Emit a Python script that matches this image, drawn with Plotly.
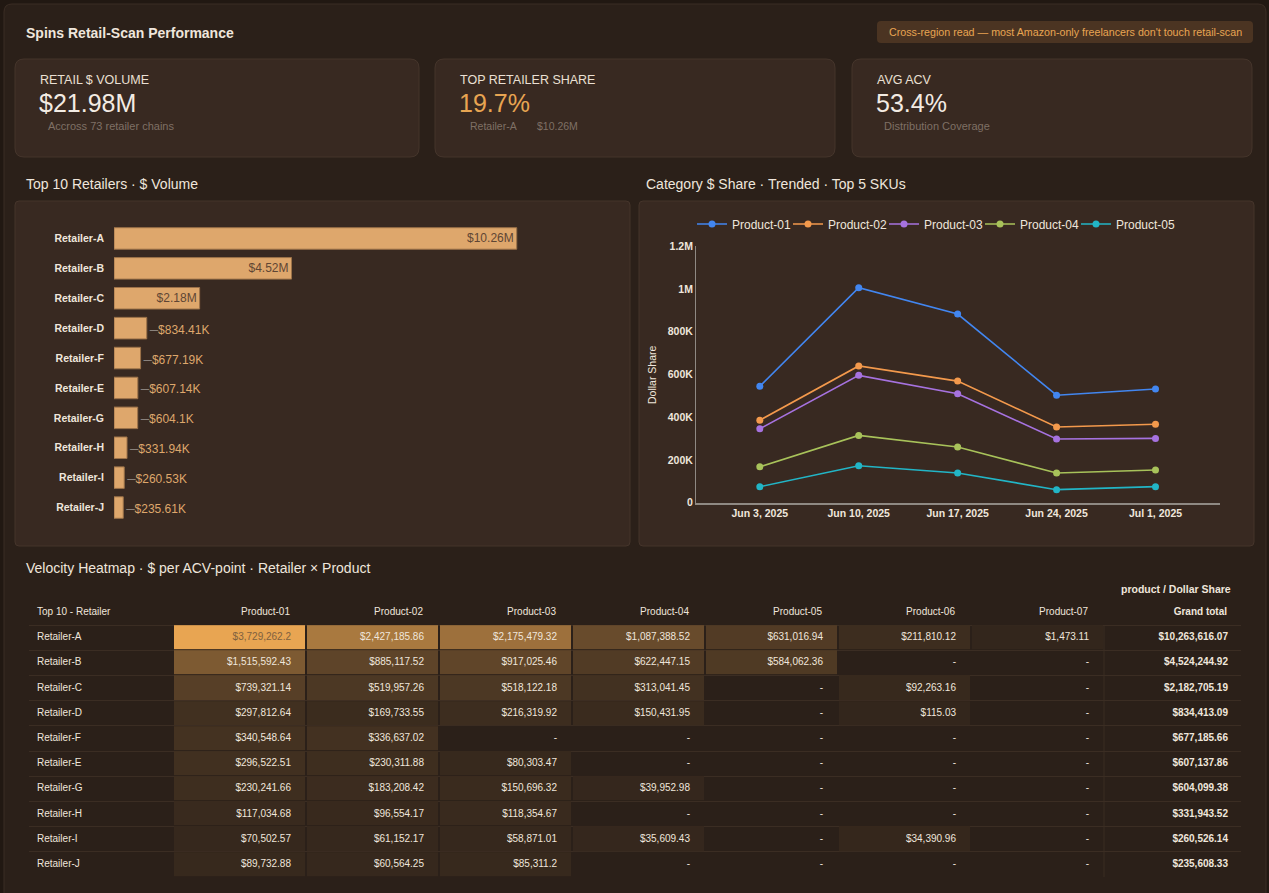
import plotly.graph_objects as go

W, H = 1269, 893
FONT = "Liberation Sans, Arial, sans-serif"

# ---------------- data ----------------
retailers = ["Retailer-A", "Retailer-B", "Retailer-C", "Retailer-D", "Retailer-F",
             "Retailer-E", "Retailer-G", "Retailer-H", "Retailer-I", "Retailer-J"]
retailer_volume = [10263616.07, 4524244.92, 2182705.19, 834413.09, 677185.66,
                   607137.86, 604099.38, 331943.52, 260526.14, 235608.33]

weeks = ["Jun 3, 2025", "Jun 10, 2025", "Jun 17, 2025", "Jun 24, 2025", "Jul 1, 2025"]
trend_products = ["Product-01", "Product-02", "Product-03", "Product-04", "Product-05"]
p01_share = [545000, 1006000, 883000, 503000, 532000]
p02_share = [386000, 640000, 569000, 354000, 367000]
p03_share = [346000, 596000, 510000, 298000, 301000]
p04_share = [168000, 315000, 261000, 139000, 153000]
p05_share = [75000, 173000, 139000, 61000, 75000]
trend_values = [p01_share, p02_share, p03_share, p04_share, p05_share]
trend_colors = ["#4286F0", "#F3994C", "#A672DF", "#A8C25A", "#22B5C6"]
y_tickvals = [0, 200000, 400000, 600000, 800000, 1000000, 1200000]
y_ticktext = ["0", "200K", "400K", "600K", "800K", "1M", "1.2M"]

heat_products = ["Product-01", "Product-02", "Product-03", "Product-04",
                 "Product-05", "Product-06", "Product-07"]
h_p01 = [3729262.2, 1515592.43, 739321.14, 297812.64, 340548.64, 296522.51, 230241.66, 117034.68, 70502.57, 89732.88]
h_p02 = [2427185.86, 885117.52, 519957.26, 169733.55, 336637.02, 230311.88, 183208.42, 96554.17, 61152.17, 60564.25]
h_p03 = [2175479.32, 917025.46, 518122.18, 216319.92, None, 80303.47, 150696.32, 118354.67, 58871.01, 85311.2]
h_p04 = [1087388.52, 622447.15, 313041.45, 150431.95, None, None, 39952.98, None, 35609.43, None]
h_p05 = [631016.94, 584062.36, None, None, None, None, None, None, None, None]
h_p06 = [211810.12, None, 92263.16, 115.03, None, None, None, None, 34390.96, None]
h_p07 = [1473.11, None, None, None, None, None, None, None, None, None]
heat_values = [h_p01, h_p02, h_p03, h_p04, h_p05, h_p06, h_p07]
grand_total = [10263616.07, 4524244.92, 2182705.19, 834413.09, 677185.66,
               607137.86, 604099.38, 331943.52, 260526.14, 235608.33]

# ---------------- helpers ----------------
BG_PAGE = "#211812"
BG_PANEL = "#2b2019"
CARD = "#382921"
CARD_LINE = "#45352b"
TXT = "#efe6dc"
MUTED = "#7f7065"
ORANGE = "#E8A552"
SEP = "#3b2d23"


def px(x):
    return x / W


def py(y):
    return 1 - y / H


def rrect(x0, y0, x1, y1, r, fill, line=None, lw=1):
    p = (f"M {px(x0 + r)},{py(y0)} L {px(x1 - r)},{py(y0)} Q {px(x1)},{py(y0)} {px(x1)},{py(y0 + r)} "
         f"L {px(x1)},{py(y1 - r)} Q {px(x1)},{py(y1)} {px(x1 - r)},{py(y1)} "
         f"L {px(x0 + r)},{py(y1)} Q {px(x0)},{py(y1)} {px(x0)},{py(y1 - r)} "
         f"L {px(x0)},{py(y0 + r)} Q {px(x0)},{py(y0)} {px(x0 + r)},{py(y0)} Z")
    return dict(type="path", xref="paper", yref="paper", path=p, fillcolor=fill,
                line=dict(color=line if line else fill, width=lw if line else 0), layer="below")


def ann(x, y, text, size=12, color=TXT, anchor="left", bold=False, angle=0):
    if bold:
        text = f"<b>{text}</b>"
    return dict(x=px(x), y=py(y), xref="paper", yref="paper", text=text, showarrow=False,
                xanchor=anchor, yanchor="middle", textangle=angle,
                font=dict(size=size, color=color, family=FONT))


def money_short(v):
    if v >= 1e6:
        s = f"{v / 1e6:.2f}".rstrip("0").rstrip(".")
        return f"${s}M"
    s = f"{v / 1e3:.2f}".rstrip("0").rstrip(".")
    return f"${s}K"


def money_full(v):
    if v is None:
        return "-"
    s = f"{v:,.2f}".rstrip("0").rstrip(".")
    return f"${s}"


fig = go.Figure()

# ---------------- bar chart ----------------
bar_text = []
bar_pos = []
for v in retailer_volume:
    if v >= 1e6:
        bar_text.append(money_short(v))
        bar_pos.append("inside")
    else:
        bar_text.append(f"<span style='color:#8a827c;font-size:15px'>–</span>{money_short(v)}")
        bar_pos.append("outside")

fig.add_trace(go.Bar(
    y=retailers, x=retailer_volume, orientation="h",
    marker=dict(color="#DEA76C", line=dict(color="#9c7249", width=1)),
    text=bar_text, textposition=bar_pos, insidetextanchor="end",
    insidetextfont=dict(color="#5f4634", size=12, family=FONT),
    outsidetextfont=dict(color="#DEA76C", size=12, family=FONT),
    cliponaxis=False, width=0.72, showlegend=False,
    xaxis="x", yaxis="y", hoverinfo="skip"))

# ---------------- line chart ----------------
for name, vals, col in zip(trend_products, trend_values, trend_colors):
    fig.add_trace(go.Scatter(
        x=weeks, y=vals, name=name, mode="lines+markers",
        line=dict(color=col, width=1.6), marker=dict(color=col, size=7),
        xaxis="x2", yaxis="y2"))
# invisible legend spacer so the last legend label is not clipped
fig.add_trace(go.Scatter(
    x=[None], y=[None], name=" ", mode="lines", line=dict(color="rgba(0,0,0,0)"),
    hoverinfo="skip", xaxis="x2", yaxis="y2"))

# ---------------- heatmap table ----------------
col_widths = [144, 133, 133, 133, 133, 133, 133, 133, 137]  # first col, 7 products, grand total
edges = [0]
for w_ in col_widths:
    edges.append(edges[-1] + w_)
prod_edges = edges[1:len(heat_products) + 2]
rows = list(range(len(retailers)))

all_vals = [v for col in heat_values for v in col if v is not None]
vmax = max(all_vals)
z = [[heat_values[c][r] for c in range(len(heat_products))] for r in rows]

fig.add_trace(go.Heatmap(
    z=z, x=prod_edges, y=rows, zmin=0, zmax=vmax,
    colorscale=[[0, "#33261c"], [1, "#E8A552"]], showscale=False,
    xgap=2, ygap=1, hoverinfo="skip", xaxis="x3", yaxis="y3"))

# texts
tx, ty, tt, tc, tp = [], [], [], [], []
HDR = -1
tx.append(edges[0] + 8); ty.append(HDR); tt.append("Top 10 - Retailer"); tc.append(TXT); tp.append("middle right")
for i, p in enumerate(heat_products):
    tx.append(edges[i + 2] - 16); ty.append(HDR); tt.append(p); tc.append(TXT); tp.append("middle left")
tx.append(edges[-1] - 14); ty.append(HDR); tt.append("<b>Grand total</b>"); tc.append(TXT); tp.append("middle left")
for r, name in enumerate(retailers):
    tx.append(edges[0] + 8); ty.append(r); tt.append(name); tc.append(TXT); tp.append("middle right")
    for c in range(len(heat_products)):
        v = heat_values[c][r]
        tx.append(edges[c + 2] - 15); ty.append(r); tt.append(money_full(v))
        tc.append("#80613f" if (v is not None and v / vmax > 0.8) else TXT)
        tp.append("middle left")
    tx.append(edges[-1] - 13); ty.append(r); tt.append(f"<b>{money_full(grand_total[r])}</b>")
    tc.append(TXT); tp.append("middle left")

fig.add_trace(go.Scatter(
    x=tx, y=ty, text=tt, mode="text", textposition=tp,
    textfont=dict(color=tc, size=10, family=FONT), showlegend=False,
    hoverinfo="skip", cliponaxis=False, xaxis="x3", yaxis="y3"))

# ---------------- layout: shapes ----------------
shapes = [
    rrect(4, 4, 1266, 905, 8, BG_PANEL, "#3b2d24"),
    rrect(877, 21, 1253, 43, 4, "#4b3422"),
    rrect(15, 59, 419, 157, 9, CARD, CARD_LINE),
    rrect(435, 59, 835, 157, 9, CARD, CARD_LINE),
    rrect(852, 59, 1252, 157, 9, CARD, CARD_LINE),
    rrect(15, 201, 630, 546, 4, CARD, CARD_LINE),
    rrect(639, 201, 1254, 546, 4, CARD, CARD_LINE),
    dict(type="line", xref="x3", yref="y3", x0=edges[-2], x1=edges[-2], y0=-0.5, y1=len(retailers) - 0.5,
         line=dict(color=SEP, width=1), layer="below"),
]

annotations = [
    ann(24, 33, "Spins Retail-Scan Performance", 14, TXT, bold=True),
    ann(1065, 32, "Cross-region read — most Amazon-only freelancers don't touch retail-scan", 10.7, ORANGE, "center"),
    ann(38, 80, "RETAIL $ VOLUME", 12.5, "#ebe0d4"),
    ann(37, 103, "$21.98M", 25, "#f3ebe3"),
    ann(46, 126, "Accross 73 retailer chains", 11, MUTED),
    ann(458, 80, "TOP RETAILER SHARE", 12.5, "#ebe0d4"),
    ann(457, 103, "19.7%", 25, ORANGE),
    ann(468, 126, "Retailer-A", 10.5, MUTED),
    ann(535, 126, "$10.26M", 10.5, MUTED),
    ann(875, 80, "AVG ACV", 12.5, "#ebe0d4"),
    ann(874, 103, "53.4%", 25, "#f3ebe3"),
    ann(882, 126, "Distribution Coverage", 11, MUTED),
    ann(24, 184, "Top 10 Retailers · $ Volume", 14, TXT),
    ann(644, 184, "Category $ Share · Trended · Top 5 SKUs", 14, TXT),
    ann(24, 568, "Velocity Heatmap · $ per ACV-point · Retailer × Product", 14, TXT),
    ann(1233, 589, "product / Dollar Share", 10.5, TXT, "right", bold=True),
    ann(652, 375, "Dollar Share", 10.5, TXT, "center", angle=-90),
]

fig.update_layout(
    width=W, height=H, margin=dict(l=0, r=0, t=0, b=0, autoexpand=False),
    paper_bgcolor=BG_PAGE, plot_bgcolor="rgba(0,0,0,0)",
    font=dict(family=FONT, color=TXT),
    shapes=shapes, annotations=annotations,
    bargap=0.28,
    xaxis=dict(domain=[px(114), px(614)], range=[0, 12.743e6], visible=False, fixedrange=True),
    yaxis=dict(domain=[py(522.5), py(223.5)], autorange="reversed", showgrid=False, automargin=False,
               showline=False, zeroline=False, ticks="", ticklabelstandoff=9,
               tickfont=dict(size=10.5, color=TXT, family="Liberation Sans, Arial", weight="bold")),
    xaxis2=dict(domain=[px(696), px(1220)], type="category", range=[-0.645, 4.652],
                anchor="y2", showgrid=False, zeroline=False, showline=True, automargin=False,
                linecolor="#8f8983", linewidth=2, ticks="",
                tickfont=dict(size=10.5, color=TXT, weight="bold")),
    yaxis2=dict(domain=[py(502.7), py(246.3)], range=[0, 1.2e6], anchor="x2", automargin=False,
                tickvals=y_tickvals, ticktext=y_ticktext, showgrid=False, zeroline=False,
                showline=True, linecolor="#8f8983", linewidth=1, ticks="",
                tickfont=dict(size=10.5, color=TXT, weight="bold")),
    xaxis3=dict(domain=[px(29), px(29 + edges[-1])], range=[0, edges[-1]], anchor="y3",
                visible=False, fixedrange=True),
    yaxis3=dict(domain=[py(877), py(600)], range=[len(retailers) - 0.5, -1.5], anchor="x3",
                tickvals=[i - 0.5 for i in range(len(retailers) + 1)], showticklabels=False,
                showgrid=True, gridcolor=SEP, gridwidth=1, zeroline=False, showline=False,
                ticks="", automargin=False, fixedrange=True),
    legend=dict(orientation="h", x=px(692), y=py(224), xanchor="left", yanchor="middle",
                font=dict(size=12, color=TXT, family=FONT), bgcolor="rgba(0,0,0,0)",
                entrywidth=51, itemclick=False, itemdoubleclick=False),
    hovermode=False,
)

fig.write_html("out.html")
